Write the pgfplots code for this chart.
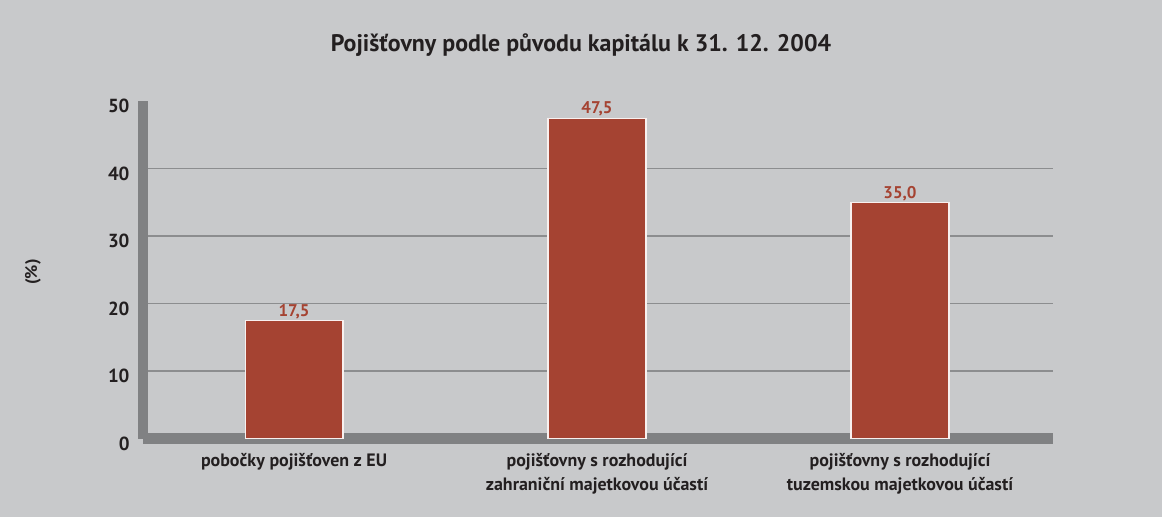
\documentclass[border=0pt]{standalone}
\usepackage{pgfplots}
\pgfplotsset{compat=1.18}
\usepackage{fontspec}
\setmainfont{PT Sans}
\definecolor{bg}{HTML}{C8C9CB}
\definecolor{wall}{HTML}{808183}
\definecolor{gridc}{HTML}{8C8D8F}
\definecolor{barc}{HTML}{A54332}
\definecolor{txt}{HTML}{231F20}
\begin{document}
\begin{tikzpicture}[x=1bp,y=1bp]
\fill[bg] (0,0) rectangle (1162,-517);
\useasboundingbox (0,0) rectangle (1162,-517);
\node[font=\bfseries\fontsize{24}{28}\selectfont, text=txt] at (581,-45) {Pojišťovny podle původu kapitálu k 31. 12. 2004};
\node[font=\bfseries\fontsize{17}{20}\selectfont, text=txt, rotate=90] at (33,-272) {(\%)};
\fill[wall] (138,-101) rectangle (148,-438.5);
\fill[wall] (143,-433) rectangle (1053,-444);
\begin{axis}[
  at={(148bp,-438.5bp)}, anchor=south west,
  scale only axis, width=905bp, height=337.2bp,
  xmin=-0.482, xmax=2.505, ymin=0, ymax=50,
  axis line style={draw=none},
  ytick={0,10,20,30,40,50},
  xtick={0,1,2},
  xticklabels={{pobočky pojišťoven z EU},{pojišťovny s rozhodující\\zahraniční majetkovou účastí},{pojišťovny s rozhodující\\tuzemskou majetkovou účastí}},
  major tick length=0pt,
  /pgf/number format/assume math mode=true,
  yticklabel style={font=\bfseries\fontsize{19}{22}\selectfont, text=txt, anchor=east, xshift=-15bp, yshift=-5bp},
  xticklabel style={font=\bfseries\fontsize{18}{24}\selectfont, text=txt, align=center, anchor=north, yshift=-11bp},
  extra y ticks={10,20,30,40},
  extra y tick labels={},
  extra y tick style={ymajorgrids=true, major grid style={gridc, line width=1.4bp}},
  clip=false,
]
\addplot[ybar, bar width=0.323, fill=barc, draw=white!92!barc, line width=1.2bp,
  nodes near coords={\pgfmathprintnumber[fixed, fixed zerofill, precision=1, use comma]{\pgfplotspointmeta}},
  nodes near coords style={font=\bfseries\fontsize{17}{19}\selectfont, text=barc, yshift=-2bp}]
  coordinates {(0,17.5) (1,47.5) (2,35.0)};
\end{axis}
\end{tikzpicture}
\end{document}
